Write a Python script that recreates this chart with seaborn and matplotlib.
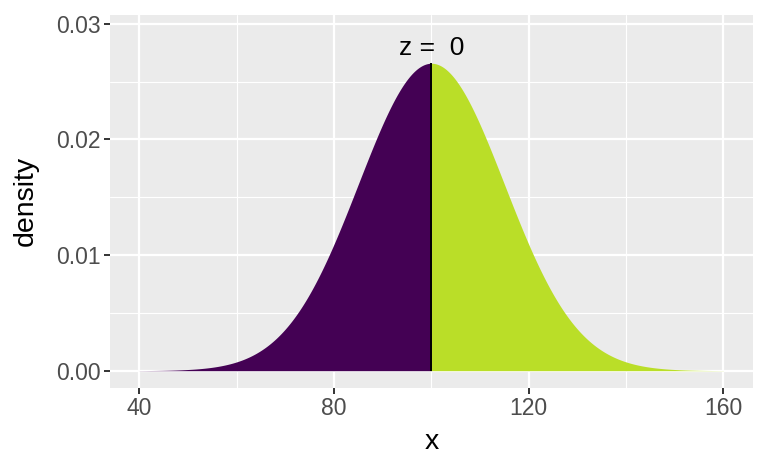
import numpy as np
import pandas as pd
import matplotlib
matplotlib.use("Agg")
import matplotlib.pyplot as plt
import seaborn as sns

# normal curve parameters
mean = 100
sd = 15
x_from, x_to = 40, 160
z_value = 0
fill_colors = ["#440154", "#BADE28"]

x = np.linspace(x_from, x_to, 1201)
dens = np.exp(-0.5 * ((x - mean) / sd) ** 2) / (sd * np.sqrt(2 * np.pi))
cut = mean + z_value * sd
df = pd.DataFrame({"x": x, "density": dens})

sns.set_theme(style="darkgrid", rc={
    "axes.facecolor": "#EBEBEB",
    "grid.color": "white",
    "axes.edgecolor": "none",
})
plt.rcParams["font.family"] = ["Liberation Sans", "DejaVu Sans"]

fig = plt.figure(figsize=(7.68, 4.74), dpi=100)
ax = fig.add_axes([0.1432, 0.1821, 0.8368, 0.7863])

low = df[df["x"] <= cut]
high = df[df["x"] >= cut]
ax.fill_between(low["x"], 0, low["density"], color=fill_colors[0], linewidth=0, zorder=2)
ax.fill_between(high["x"], 0, high["density"], color=fill_colors[1], linewidth=0, zorder=2)
peak = dens.max()
ax.vlines(cut, 0, np.interp(cut, x, dens), color="black", linewidth=1.4, zorder=3)
ax.text(cut, peak * 1.05, f"z =  {z_value}", ha="center", va="center",
        fontsize=19, color="black", zorder=4)

ax.set_xlim(34, 166)
ax.set_ylim(-0.00147, 0.03077)
ax.set_xticks([40, 80, 120, 160])
ax.set_yticks([0, 0.01, 0.02, 0.03])
ax.set_yticklabels(["0.00", "0.01", "0.02", "0.03"])
ax.set_xticks([60, 100, 140], minor=True)
ax.set_yticks([0.005, 0.015, 0.025], minor=True)
ax.grid(which="major", color="white", linewidth=1.6)
ax.grid(which="minor", color="white", linewidth=0.8)
ax.tick_params(which="major", length=4.5, width=1.4, color="#333333",
               labelsize=16.5, labelcolor="#4D4D4D", pad=2.5, bottom=True, left=True)
ax.tick_params(which="minor", length=0)
for s in ax.spines.values():
    s.set_visible(False)
ax.set_xlabel("x", fontsize=20.5, color="black", labelpad=6)
ax.set_ylabel("density", fontsize=20.5, color="black", labelpad=12)

fig.savefig("out.png", dpi=100)
